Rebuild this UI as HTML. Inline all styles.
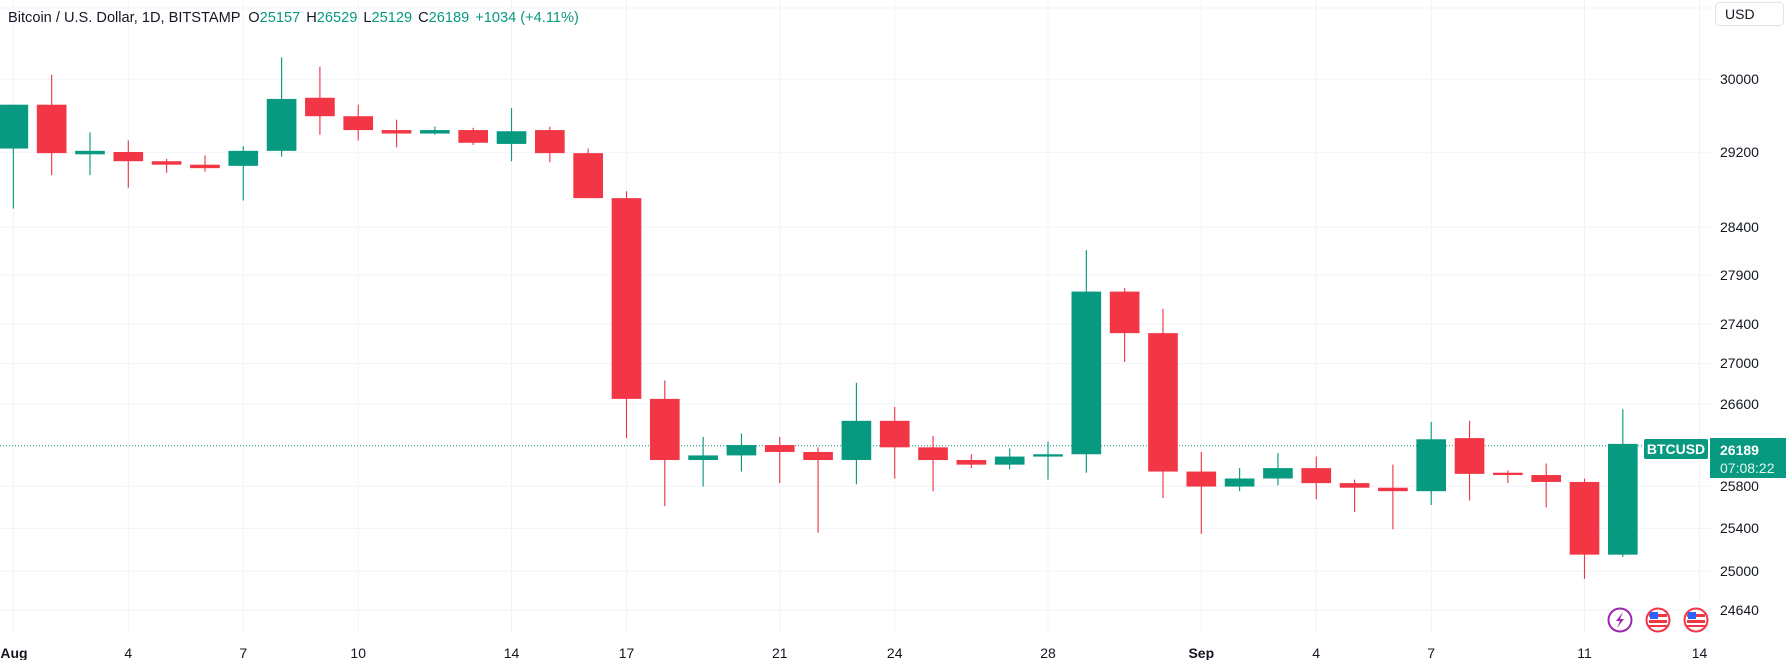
<!DOCTYPE html>
<html><head><meta charset="utf-8"><style>
html,body{margin:0;padding:0;background:#fff;width:1786px;height:660px;overflow:hidden}
svg{display:block;font-family:"Liberation Sans",sans-serif}
</style></head><body>
<svg width="1786" height="660" viewBox="0 0 1786 660" xmlns="http://www.w3.org/2000/svg">
<rect width="1786" height="660" fill="#fff"/>
<g stroke="#f0f3fa" stroke-width="1">
<line x1="0" x2="1711" y1="79.3" y2="79.3"/><line x1="0" x2="1711" y1="152.2" y2="152.2"/>
<line x1="0" x2="1711" y1="227.2" y2="227.2"/><line x1="0" x2="1711" y1="275.1" y2="275.1"/>
<line x1="0" x2="1711" y1="323.9" y2="323.9"/><line x1="0" x2="1711" y1="363.6" y2="363.6"/>
<line x1="0" x2="1711" y1="403.8" y2="403.8"/><line x1="0" x2="1711" y1="486.2" y2="486.2"/>
<line x1="0" x2="1711" y1="528.4" y2="528.4"/><line x1="0" x2="1711" y1="571.2" y2="571.2"/>
<line x1="0" x2="1711" y1="610.3" y2="610.3"/><line x1="0" x2="1711" y1="8" y2="8"/>
<line x1="13.3" x2="13.3" y1="0" y2="632"/><line x1="128.3" x2="128.3" y1="0" y2="632"/>
<line x1="243.3" x2="243.3" y1="0" y2="632"/><line x1="358.2" x2="358.2" y1="0" y2="632"/>
<line x1="511.5" x2="511.5" y1="0" y2="632"/><line x1="626.5" x2="626.5" y1="0" y2="632"/>
<line x1="779.8" x2="779.8" y1="0" y2="632"/><line x1="894.7" x2="894.7" y1="0" y2="632"/>
<line x1="1048" x2="1048" y1="0" y2="632"/><line x1="1201.3" x2="1201.3" y1="0" y2="632"/>
<line x1="1316.2" x2="1316.2" y1="0" y2="632"/><line x1="1431.2" x2="1431.2" y1="0" y2="632"/>
<line x1="1584.5" x2="1584.5" y1="0" y2="632"/><line x1="1699.5" x2="1699.5" y1="0" y2="632"/>
</g>
<line x1="0" x2="1711" y1="445.8" y2="445.8" stroke="#089981" stroke-width="1" stroke-dasharray="1,2"/>
<g transform="translate(0.8,-2.6) scale(1.1405,1.1537)">
<g fill="#089981">
<rect x="10.5" y="93" width="1" height="90"/><rect x="-2" y="93" width="26" height="38"/>
<rect x="77.7" y="117" width="1" height="37"/><rect x="65.2" y="133" width="26" height="3"/>
<rect x="212.1" y="129" width="1" height="47"/><rect x="199.6" y="133" width="26" height="13"/>
<rect x="245.7" y="52" width="1" height="86"/><rect x="233.2" y="88" width="26" height="45"/>
<rect x="380.1" y="112" width="1" height="7"/><rect x="367.6" y="115" width="26" height="3"/>
<rect x="447.3" y="96" width="1" height="46"/><rect x="434.8" y="116" width="26" height="11"/>
<rect x="615.3" y="381" width="1" height="43"/><rect x="602.8" y="397" width="26" height="4"/>
<rect x="648.9" y="378" width="1" height="33"/><rect x="636.4" y="388" width="26" height="9"/>
<rect x="749.7" y="334" width="1" height="88"/><rect x="737.2" y="367" width="26" height="34"/>
<rect x="884.1" y="391" width="1" height="18"/><rect x="871.6" y="398" width="26" height="7"/>
<rect x="917.7" y="385" width="1" height="33"/><rect x="905.2" y="396" width="26" height="2"/>
<rect x="951.3" y="219" width="1" height="193"/><rect x="938.8" y="255" width="26" height="141"/>
<rect x="1085.7" y="408" width="1" height="20"/><rect x="1073.2" y="417" width="26" height="7"/>
<rect x="1119.3" y="395" width="1" height="28"/><rect x="1106.8" y="408" width="26" height="9"/>
<rect x="1253.7" y="368" width="1" height="72"/><rect x="1241.2" y="383" width="26" height="45"/>
<rect x="1421.7" y="357" width="1" height="128"/><rect x="1409.2" y="387" width="26" height="96"/>
</g>
<g fill="#f23645">
<rect x="44.1" y="67" width="1" height="87"/><rect x="31.6" y="93" width="26" height="42"/>
<rect x="111.3" y="124" width="1" height="41"/><rect x="98.8" y="134" width="26" height="8"/>
<rect x="144.9" y="140" width="1" height="12"/><rect x="132.4" y="142" width="26" height="3"/>
<rect x="178.5" y="137" width="1" height="14"/><rect x="166" y="145" width="26" height="3"/>
<rect x="279.3" y="60" width="1" height="59"/><rect x="266.8" y="87" width="26" height="16"/>
<rect x="312.9" y="93" width="1" height="31"/><rect x="300.4" y="103" width="26" height="12"/>
<rect x="346.5" y="106" width="1" height="24"/><rect x="334" y="115" width="26" height="3"/>
<rect x="413.7" y="113" width="1" height="15"/><rect x="401.2" y="115" width="26" height="11"/>
<rect x="480.9" y="112" width="1" height="31"/><rect x="468.4" y="115" width="26" height="20"/>
<rect x="514.5" y="131" width="1" height="43"/><rect x="502" y="135" width="26" height="39"/>
<rect x="548.1" y="168" width="1" height="214"/><rect x="535.6" y="174" width="26" height="174"/>
<rect x="581.7" y="332" width="1" height="109"/><rect x="569.2" y="348" width="26" height="53"/>
<rect x="682.5" y="381" width="1" height="40"/><rect x="670" y="388" width="26" height="6"/>
<rect x="716.1" y="390" width="1" height="74"/><rect x="703.6" y="394" width="26" height="7"/>
<rect x="783.3" y="355" width="1" height="62"/><rect x="770.8" y="367" width="26" height="23"/>
<rect x="816.9" y="380" width="1" height="48"/><rect x="804.4" y="390" width="26" height="11"/>
<rect x="850.5" y="396" width="1" height="12"/><rect x="838" y="401" width="26" height="4"/>
<rect x="984.9" y="252" width="1" height="64"/><rect x="972.4" y="255" width="26" height="36"/>
<rect x="1018.5" y="270" width="1" height="164"/><rect x="1006" y="291" width="26" height="120"/>
<rect x="1052.1" y="394" width="1" height="71"/><rect x="1039.6" y="411" width="26" height="13"/>
<rect x="1152.9" y="398" width="1" height="37"/><rect x="1140.4" y="408" width="26" height="13"/>
<rect x="1186.5" y="418" width="1" height="28"/><rect x="1174" y="421" width="26" height="4"/>
<rect x="1220.1" y="405" width="1" height="56"/><rect x="1207.6" y="425" width="26" height="3"/>
<rect x="1287.3" y="367" width="1" height="69"/><rect x="1274.8" y="382" width="26" height="31"/>
<rect x="1320.9" y="410" width="1" height="11"/><rect x="1308.4" y="412" width="26" height="2"/>
<rect x="1354.5" y="404" width="1" height="38"/><rect x="1342" y="414" width="26" height="6"/>
<rect x="1388.1" y="417" width="1" height="87"/><rect x="1375.6" y="420" width="26" height="63"/>
</g>
</g>
<text x="8" y="22" font-size="14.6" fill="#131722">Bitcoin / U.S. Dollar, 1D, BITSTAMP <tspan dx="4">O</tspan><tspan fill="#089981">25157</tspan><tspan dx="6">H</tspan><tspan fill="#089981">26529</tspan><tspan dx="6">L</tspan><tspan fill="#089981">25129</tspan><tspan dx="6">C</tspan><tspan fill="#089981">26189</tspan><tspan dx="6" fill="#089981">+1034 (+4.11%)</tspan></text>
<rect x="1715.5" y="2.5" width="68" height="23" rx="4" fill="#fff" stroke="#e0e3eb"/>
<text x="1725" y="19" font-size="14" fill="#131722">USD</text>
<g font-size="14" fill="#131722">
<text x="1720" y="84">30000</text><text x="1720" y="157">29200</text><text x="1720" y="232">28400</text>
<text x="1720" y="280">27900</text><text x="1720" y="329">27400</text><text x="1720" y="368">27000</text>
<text x="1720" y="409">26600</text><text x="1720" y="491">25800</text><text x="1720" y="533">25400</text>
<text x="1720" y="576">25000</text><text x="1720" y="615">24640</text>
</g>
<rect x="1644" y="439" width="64" height="20" rx="2" fill="#089981"/>
<text x="1676" y="454" font-size="14" font-weight="bold" fill="#fff" text-anchor="middle">BTCUSD</text>
<rect x="1710" y="438" width="76" height="40" fill="#089981"/>
<text x="1720" y="455" font-size="14" font-weight="bold" fill="#fff">26189</text>
<text x="1720" y="473" font-size="14" fill="#e6f4f1">07:08:22</text>
<g>
<circle cx="1620" cy="620" r="11.5" fill="#fff" stroke="#9c27b0" stroke-width="2"/>
<path d="M1623 612 L1616 621 L1620 621 L1617 628 L1624 619 L1620 619 Z" fill="#9c27b0"/>
<circle cx="1658" cy="620" r="11.5" fill="#fff" stroke="#f23645" stroke-width="2"/>
<rect x="1649" y="614" width="18" height="3" fill="#f23645"/><rect x="1649" y="620" width="18" height="3" fill="#f23645"/><rect x="1649" y="625" width="18" height="2" fill="#f23645"/>
<rect x="1650" y="612" width="8" height="7" fill="#2962ff"/>
<circle cx="1696" cy="620" r="11.5" fill="#fff" stroke="#f23645" stroke-width="2"/>
<rect x="1687" y="614" width="18" height="3" fill="#f23645"/><rect x="1687" y="620" width="18" height="3" fill="#f23645"/><rect x="1687" y="625" width="18" height="2" fill="#f23645"/>
<rect x="1688" y="612" width="8" height="7" fill="#2962ff"/>
</g>
<g font-size="14" fill="#131722" text-anchor="middle">
<text x="14" y="658" font-weight="bold">Aug</text><text x="128.3" y="658">4</text><text x="243.3" y="658">7</text>
<text x="358.2" y="658">10</text><text x="511.5" y="658">14</text><text x="626.5" y="658">17</text>
<text x="779.8" y="658">21</text><text x="894.7" y="658">24</text><text x="1048" y="658">28</text>
<text x="1201.3" y="658" font-weight="bold">Sep</text><text x="1316.2" y="658">4</text><text x="1431.2" y="658">7</text>
<text x="1584.5" y="658">11</text><text x="1699.5" y="658">14</text>
</g>
</svg>
</body></html>
